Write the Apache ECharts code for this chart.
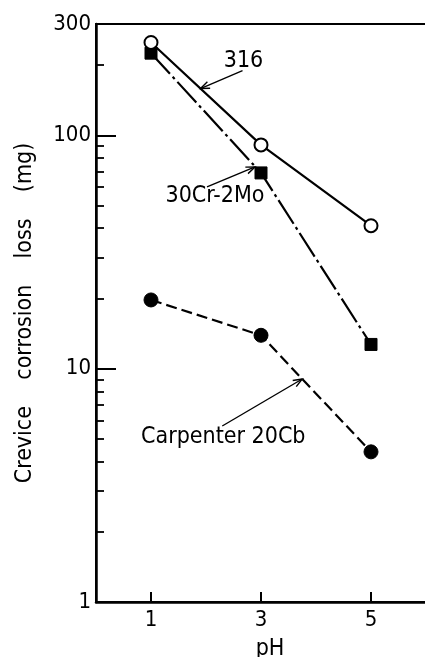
<!DOCTYPE html>
<html>
<head>
<meta charset="utf-8">
<script src="https://cdn.jsdelivr.net/npm/echarts@6/dist/echarts.min.js"></script>
<style>
  html, body { margin: 0; padding: 0; background: #fff; }
  #chart { width: 425px; height: 657px; }
</style>
</head>
<body>
<div id="chart"></div>
<script>
// pH values and crevice corrosion loss (mg) for each alloy
const pH = [1, 3, 5];
const loss316 = [250, 91, 41];
const loss30Cr2Mo = [225, 69, 12.7];
const lossCarpenter20Cb = [19.7, 13.9, 4.4];

// axis ticks and labels
const xTickValues = [1, 3, 5];
const yMajorTicks = [1, 10, 100];
const yLabelValues = [1, 10, 100, 300];
const yMinorTicks = [2, 3, 4, 5, 6, 7, 8, 9, 20, 30, 40, 50, 60, 70, 80, 90, 200];

const FONT = '"DejaVu Sans Condensed", "DejaVu Sans", sans-serif';
const INK = '#000';

const chart = echarts.init(document.getElementById('chart'), null, { renderer: 'canvas' });
const pairs = (xs, ys) => xs.map((x, i) => [x, ys[i]]);

const option = {
  animation: false,
  backgroundColor: '#fff',
  grid: {
    left: 96, right: -1, top: 24, bottom: 55,
    show: true, borderColor: INK, borderWidth: 2, backgroundColor: 'transparent',
    outerBoundsMode: 'none'
  },
  xAxis: {
    type: 'value', min: 0, max: 6,
    name: 'pH', nameLocation: 'middle', nameGap: 36,
    nameTextStyle: { color: INK, fontSize: 23, fontFamily: FONT, padding: [0, 0, 0, 18] },
    axisLine: { lineStyle: { color: INK, width: 2.5 } },
    axisTick: { inside: true, length: 10, customValues: xTickValues, lineStyle: { color: INK, width: 2 } },
    axisLabel: { customValues: xTickValues, margin: 7, color: INK, fontSize: 22, fontFamily: FONT },
    splitLine: { show: false }
  },
  yAxis: [
    {
      type: 'log', logBase: 10, min: 1, max: 300,
      name: 'Crevice    corrosion    loss    (mg)', nameLocation: 'middle', nameGap: 59,
      nameTextStyle: { color: INK, fontSize: 23, fontFamily: FONT },
      axisLine: { lineStyle: { color: INK, width: 2.5 } },
      axisTick: { inside: true, length: 20, customValues: yMajorTicks, lineStyle: { color: INK, width: 2 } },
      axisLabel: { customValues: yLabelValues, margin: 5, color: INK, fontSize: 22, fontFamily: FONT },
      splitLine: { show: false },
      minorTick: { show: false }
    },
    {
      type: 'log', logBase: 10, min: 1, max: 300, position: 'left',
      axisLine: { show: false },
      axisTick: { inside: true, length: 8, customValues: yMinorTicks, lineStyle: { color: INK, width: 1.8 } },
      axisLabel: { show: false },
      splitLine: { show: false }
    }
  ],
  series: [
    {
      name: '316', type: 'line', data: pairs(pH, loss316),
      symbol: 'circle', symbolSize: 13,
      itemStyle: { color: '#fff', borderColor: INK, borderWidth: 2 },
      lineStyle: { color: INK, width: 2.2, type: 'solid' },
      z: 5
    },
    {
      name: '30Cr-2Mo', type: 'line', data: pairs(pH, loss30Cr2Mo),
      symbol: 'rect', symbolSize: 12,
      itemStyle: { color: INK, borderColor: INK, borderWidth: 1 },
      lineStyle: { color: INK, width: 2.2, type: [28, 4, 3, 4] },
      z: 4
    },
    {
      name: 'Carpenter 20Cb', type: 'line', data: pairs(pH, lossCarpenter20Cb),
      symbol: 'circle', symbolSize: 14,
      itemStyle: { color: INK, borderColor: INK, borderWidth: 1 },
      lineStyle: { color: INK, width: 2.2, type: [11, 5] },
      z: 4
    }
  ]
};
chart.setOption(option);

// ---- labelled arrows pointing at each curve ----
const toPx = (x, y) => chart.convertToPixel({ xAxisIndex: 0, yAxisIndex: 0 }, [x, y]);

// value on a log-scale polyline at pH p
function onCurve(xs, ys, p) {
  for (let i = 0; i < xs.length - 1; i++) {
    if (p >= xs[i] && p <= xs[i + 1]) {
      const t = (p - xs[i]) / (xs[i + 1] - xs[i]);
      const la = Math.log10(ys[i]), lb = Math.log10(ys[i + 1]);
      return Math.pow(10, la + t * (lb - la));
    }
  }
  return ys[ys.length - 1];
}

function arrow(head, tail) {
  const dx = head[0] - tail[0], dy = head[1] - tail[1];
  const L = Math.hypot(dx, dy), ux = dx / L, uy = dy / L;
  const a = 9, w = 3.5;
  const p1 = [head[0] - ux * a - uy * w, head[1] - uy * a + ux * w];
  const p2 = [head[0] - ux * a + uy * w, head[1] - uy * a - ux * w];
  return [
    { type: 'line', shape: { x1: tail[0], y1: tail[1], x2: head[0], y2: head[1] },
      style: { stroke: INK, lineWidth: 1.4 }, z: 10 },
    { type: 'polyline', shape: { points: [p1, head, p2] },
      style: { stroke: INK, lineWidth: 1.4, fill: null }, z: 10 }
  ];
}

function label(text, pos) {
  return {
    type: 'text', x: pos[0], y: pos[1], z: 10,
    style: { text: text, fill: INK, fontSize: 23, fontFamily: FONT,
             align: 'center', verticalAlign: 'middle', textAlign: 'center', textVerticalAlign: 'middle' }
  };
}

const add = (p, d) => [p[0] + d[0], p[1] + d[1]];
const graphics = [];

// 316: arrow lands on the solid line between pH 1 and 3
{
  const p = 1.9;
  const head = toPx(p, onCurve(pH, loss316, p));
  graphics.push(...arrow(head, add(head, [42, -18])));
  graphics.push(label('316', add(head, [43, -28])));
}
// 30Cr-2Mo: arrow points at the square marker at pH 3
{
  const m = toPx(pH[1], loss30Cr2Mo[1]);
  const head = add(m, [-6, -6]);
  graphics.push(...arrow(head, add(m, [-54, 14])));
  graphics.push(label('30Cr-2Mo', add(m, [-46, 23])));
}
// Carpenter 20Cb: arrow lands on the dashed line between pH 3 and 5
{
  const p = 3.75;
  const head = toPx(p, onCurve(pH, lossCarpenter20Cb, p));
  graphics.push(...arrow(head, add(head, [-80, 47])));
  graphics.push(label('Carpenter 20Cb', add(head, [-79, 58])));
}

chart.setOption({ graphic: { elements: graphics } });
</script>
</body>
</html>
